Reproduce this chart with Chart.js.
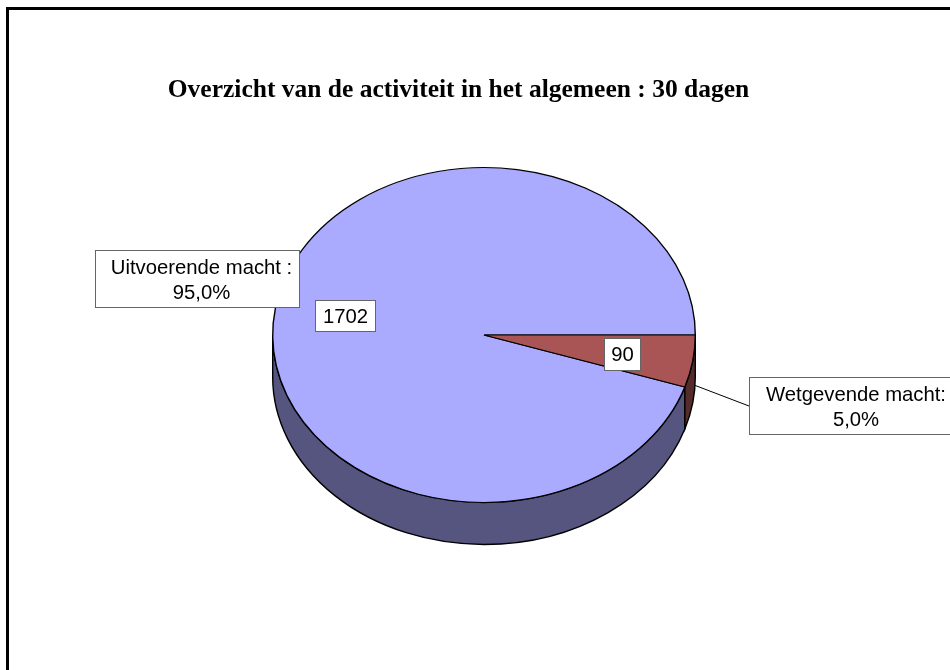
<!DOCTYPE html>
<html>
<head>
<meta charset="utf-8">
<title>Overzicht van de activiteit</title>
<style>
  html, body { margin: 0; padding: 0; background: #fff; overflow: hidden; }
  canvas { display: block; }
</style>
</head>
<body>
<canvas id="chart" width="950" height="670"></canvas>
<script src="https://cdn.jsdelivr.net/npm/chart.js@4/dist/chart.umd.min.js"></script>
<script>
var titleText = "Overzicht van de activiteit in het algemeen : 30 dagen";
var categories = ["Uitvoerende macht :", "Wetgevende macht:"];
var values = [1702, 90];
var topColors = ["#AAAAFF", "#AA5555"];
var sideColors = ["#555580", "#552B2B"];

// pie is drawn round, then squashed to this ratio for the 3d look
var squash = 168 / 212;
var depth = 42;

var total = values[0] + values[1];

function percent(v) {
  return (v / total * 100).toFixed(1).replace(".", ",") + "%";
}

// callout and value boxes, same order as categories
var calloutBoxes = [
  { x: 95, y: 250, w: 204, h: 57, cx: 201.5, y1: 274, y2: 299 },
  { x: 749, y: 377, w: 210, h: 57, cx: 856, y1: 401, y2: 426 }
];
var valueBoxes = [
  { x: 315, y: 300, w: 60, h: 31 },
  { x: 604, y: 338, w: 36, h: 32 }
];

function squashAround(ctx, arc) {
  ctx.translate(arc.x, arc.y);
  ctx.scale(1, squash);
  ctx.translate(-arc.x, -arc.y);
}

function drawSide(ctx, arc, color) {
  var start = arc.startAngle % (Math.PI * 2);
  var end = start + (arc.endAngle - arc.startAngle);
  // only the front half of the rim shows, check this turn and the next one
  [0, Math.PI * 2].forEach(function (turn) {
    var a = Math.max(start - turn, 0);
    var b = Math.min(end - turn, Math.PI);
    if (b <= a) return;
    var rx = arc.outerRadius;
    var ry = rx * squash;
    ctx.beginPath();
    ctx.ellipse(arc.x, arc.y, rx, ry, 0, a, b);
    ctx.lineTo(arc.x + Math.cos(b) * rx, arc.y + Math.sin(b) * ry + depth);
    ctx.ellipse(arc.x, arc.y + depth, rx, ry, 0, b, a, true);
    ctx.closePath();
    ctx.fillStyle = color;
    ctx.fill();
    ctx.lineWidth = 1.4;
    ctx.strokeStyle = "#000";
    ctx.stroke();
  });
}

function drawBox(ctx, b) {
  ctx.fillStyle = "#fff";
  ctx.fillRect(b.x + 0.5, b.y + 0.5, b.w, b.h);
  ctx.lineWidth = 1;
  ctx.strokeStyle = "#666";
  ctx.strokeRect(b.x + 0.5, b.y + 0.5, b.w, b.h);
}

var piePlugin = {
  id: "pie3d",
  beforeDraw: function (chart) {
    var ctx = chart.ctx;
    ctx.save();
    ctx.fillStyle = "#000";
    ctx.fillRect(6, 7, 944, 3);
    ctx.fillRect(6, 7, 3, 663);
    ctx.restore();
  },
  beforeDatasetsDraw: function (chart) {
    var ctx = chart.ctx;
    var arcs = chart.getDatasetMeta(0).data;
    arcs.forEach(function (arc, i) {
      drawSide(ctx, arc, sideColors[i]);
    });
    ctx.save();
    squashAround(ctx, arcs[0]);
  },
  afterDatasetsDraw: function (chart) {
    var ctx = chart.ctx;
    ctx.restore();
    ctx.save();

    // leader line of the small slice
    ctx.beginPath();
    ctx.moveTo(694, 385);
    ctx.lineTo(749, 406);
    ctx.strokeStyle = "#000";
    ctx.lineWidth = 1;
    ctx.stroke();

    ctx.textAlign = "center";
    ctx.textBaseline = "alphabetic";
    ctx.font = "20.3px 'Liberation Sans'";
    categories.forEach(function (name, i) {
      var c = calloutBoxes[i];
      var v = valueBoxes[i];
      drawBox(ctx, c);
      drawBox(ctx, v);
      ctx.fillStyle = "#000";
      ctx.fillText(name, c.cx, c.y1);
      ctx.fillText(percent(values[i]), c.cx, c.y2);
      ctx.fillText(String(values[i]), v.x + v.w / 2 + 0.5, v.y + 23);
    });

    ctx.font = "bold 25.5px 'Liberation Serif'";
    ctx.fillStyle = "#000";
    ctx.fillText(titleText, 458.5, 97);
    ctx.restore();
  }
};

new Chart("chart", {
  type: "pie",
  data: {
    labels: categories,
    datasets: [{
      data: values,
      backgroundColor: topColors,
      borderColor: "#000",
      borderWidth: 1.4
    }]
  },
  options: {
    responsive: false,
    animation: false,
    // first slice starts where the small one ends, small one starts pointing right
    rotation: 90 + 360 * values[1] / total,
    layout: { padding: { left: 272, right: 254, top: 123, bottom: 123 } },
    plugins: {
      legend: { display: false },
      tooltip: { enabled: false },
      title: { display: false }
    }
  },
  plugins: [piePlugin]
});
</script>
</body>
</html>
